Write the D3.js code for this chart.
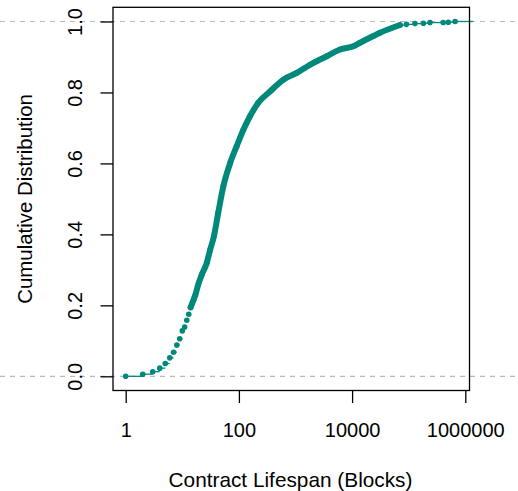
<!DOCTYPE html>
<html>
<head>
<meta charset="utf-8">
<script src="https://cdn.jsdelivr.net/npm/d3@7"></script>
<style>
  html, body { margin: 0; padding: 0; background: #fff; }
  svg { display: block; font-family: "Liberation Sans", Arial, sans-serif; }
</style>
</head>
<body>
<svg id="chart" width="518" height="491"></svg>
<script>
// Empirical CDF of contract lifespans (in blocks)
const lifespan = [
  1, 2, 3, 4, 5, 6, 7, 8, 9, 10, 11, 12, 13, 14,
  15, 16, 17, 19, 22, 27, 31, 36, 43, 53, 70, 91, 120, 157, 220, 356,
  608, 1050, 1800, 3560, 6110, 10500, 13800, 23700, 31100, 70100,
  91200, 129000, 182000, 238000, 407000, 501000, 661000
];
const cumShare = [
  0.000, 0.006, 0.013, 0.023, 0.036, 0.052, 0.068, 0.088, 0.106, 0.128, 0.139, 0.158, 0.175, 0.194,
  0.206, 0.218, 0.229, 0.257, 0.286, 0.319, 0.356, 0.393, 0.460, 0.535, 0.601, 0.648, 0.695, 0.733, 0.771, 0.803,
  0.836, 0.855, 0.878, 0.902, 0.921, 0.930, 0.940, 0.959, 0.968, 0.990,
  0.992, 0.994, 0.995, 0.997, 0.997, 0.998, 1.000
];
// Observations packed so closely that their dots merge into a band
const denseRange = [14, 70100];

const xTicks = [1, 100, 10000, 1000000];
const xTickLabels = ["1", "100", "10000", "1000000"];
const yTicks = [0, 0.2, 0.4, 0.6, 0.8, 1.0];
const yTickLabels = ["0.0", "0.2", "0.4", "0.6", "0.8", "1.0"];
const refLevels = [0, 1];

const teal = "#00897B";
const W = 518, H = 491;
const box = { left: 113, right: 469.5, top: 7.3, bottom: 390.5 };

const svg = d3.select("#chart");

const x = d3.scaleLog().domain([1, 1e6]).range([125.7, 465.3]);
const y = d3.scaleLinear().domain([-0.04, 1.04]).range([box.bottom, box.top]);

const data = lifespan.map((v, i) => ({ v, p: cumShare[i] }));
const inDense = v => v >= denseRange[0] && v <= denseRange[1];

// dashed reference lines at 0 and 1
svg.append("g").selectAll("line").data(refLevels).join("line")
  .attr("x1", 0).attr("x2", W)
  .attr("y1", d => y(d)).attr("y2", d => y(d))
  .attr("stroke", "#b8b8b8").attr("stroke-width", 1.2)
  .attr("stroke-dasharray", "5,5");

// step segments of the ECDF (outside the merged band)
const steps = data.map((d, i) => ({
  from: d.v,
  to: i < data.length - 1 ? data[i + 1].v : null,
  p: d.p
})).filter(s => !(s.to !== null && inDense(s.from) && inDense(s.to)));
svg.append("g").selectAll("line").data(steps).join("line")
  .attr("x1", d => x(d.from))
  .attr("x2", d => d.to === null ? 473 : x(d.to))
  .attr("y1", d => y(d.p)).attr("y2", d => y(d.p))
  .attr("stroke", teal).attr("stroke-width", 1.3);

// dense band
const dense = data.filter(d => inDense(d.v));
svg.append("path")
  .datum(dense)
  .attr("d", d3.line().x(d => x(d.v)).y(d => y(d.p)).curve(d3.curveMonotoneX))
  .attr("fill", "none").attr("stroke", teal).attr("stroke-width", 6)
  .attr("stroke-linecap", "round").attr("stroke-linejoin", "round");

// observation points
svg.append("g").selectAll("circle").data(data).join("circle")
  .attr("cx", d => x(d.v)).attr("cy", d => y(d.p)).attr("r", 2.8)
  .attr("fill", teal);

// frame
svg.append("rect")
  .attr("x", box.left).attr("y", box.top)
  .attr("width", box.right - box.left).attr("height", box.bottom - box.top)
  .attr("fill", "none").attr("stroke", "#000").attr("stroke-width", 1.3);

// x axis
const xAxis = svg.append("g").attr("transform", `translate(0,${box.bottom})`)
  .call(d3.axisBottom(x).tickValues(xTicks).tickFormat((d, i) => xTickLabels[i])
    .tickSize(12.5).tickPadding(2));
xAxis.select(".domain").remove();
xAxis.selectAll("line").attr("stroke", "#000").attr("stroke-width", 1.3);
xAxis.selectAll("text").attr("font-size", 20).attr("fill", "#000")
  .attr("dy", null).attr("y", 46.5);
xAxis.attr("font-family", null);

// y axis
const yAxis = svg.append("g").attr("transform", `translate(${box.left},0)`)
  .call(d3.axisLeft(y).tickValues(yTicks).tickFormat((d, i) => yTickLabels[i])
    .tickSize(12.5));
yAxis.select(".domain").remove();
yAxis.selectAll("line").attr("stroke", "#000").attr("stroke-width", 1.3);
yAxis.selectAll("text")
  .attr("font-size", 20).attr("fill", "#000")
  .attr("x", null).attr("dy", null)
  .attr("text-anchor", "middle")
  .attr("transform", "translate(-31.5,0) rotate(-90)");
yAxis.attr("font-family", null);

// axis titles
svg.append("text")
  .attr("x", 290.5).attr("y", 486.5)
  .attr("text-anchor", "middle").attr("font-size", 20.8).attr("fill", "#000")
  .text("Contract Lifespan (Blocks)");

svg.append("text")
  .attr("transform", `translate(31.5,${(box.top + box.bottom) / 2}) rotate(-90)`)
  .attr("text-anchor", "middle").attr("font-size", 20.4).attr("fill", "#000")
  .text("Cumulative Distribution");
</script>
</body>
</html>
